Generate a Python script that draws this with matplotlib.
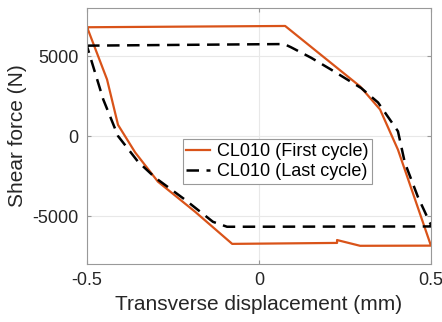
import matplotlib
matplotlib.use('Agg')
import matplotlib.pyplot as plt

plt.rcParams['font.family'] = ['Liberation Sans', 'DejaVu Sans']

# first cycle (orange)
first_x = [-0.5, 0.076, 0.294, 0.352, 0.404, 0.5, 0.294, 0.227, 0.227,
           -0.078, -0.186, -0.294, -0.36, -0.41, -0.442, -0.5]
first_y = [6800, 6880, 3100, 1660, -850, -6850, -6860, -6500, -6680,
           -6740, -4730, -2850, -1030, 700, 3540, 6800]

# last cycle (black dashed)
last_x = [-0.5, 0.073, 0.093, 0.151, 0.209, 0.297, 0.346, 0.404, 0.424,
          0.462, 0.49, 0.5, 0.5, -0.093, -0.134, -0.215, -0.302, -0.352,
          -0.41, -0.453, -0.5]
last_y = [5650, 5750, 5550, 4900, 4160, 3000, 2100, 300, -1660,
          -3800, -5100, -5550, -5650, -5670, -5360, -3980, -2600, -1600,
          0, 2290, 5600]

fig = plt.figure(figsize=(4.42, 3.22), dpi=100)
ax = fig.add_axes([0.197, 0.180, 0.778, 0.795])

ax.plot(first_x, first_y, color='#D95319', lw=1.6, label='CL010 (First cycle)')
ax.plot(last_x, last_y, color='black', lw=1.8, ls=(0, (5, 3)), label='CL010 (Last cycle)')

ax.set_xlim(-0.5, 0.5)
ax.set_ylim(-8000, 8000)
ax.set_xticks([-0.5, 0, 0.5])
ax.set_xticklabels(['-0.5', '0', '0.5'])
ax.set_yticks([-5000, 0, 5000])
ax.set_yticklabels(['-5000', '0', '5000'])
ax.grid(True, color='#e8e8e8', lw=0.8)
ax.set_axisbelow(True)
for s in ax.spines.values():
    s.set_color('#999999')
    s.set_linewidth(0.8)
ax.tick_params(direction='in', length=3, color='#999999', labelsize=13,
               labelcolor='#262626', top=True, right=True, pad=6)
ax.set_xlabel('Transverse displacement (mm)', fontsize=15, color='#262626')
ax.set_ylabel('Shear force (N)', fontsize=15, color='#262626')

leg = ax.legend(loc='center', bbox_to_anchor=(0.553, 0.40), fontsize=13,
                fancybox=False, framealpha=1, edgecolor='#999999',
                handlelength=1.3, handletextpad=0.4, borderpad=0.2,
                borderaxespad=0, labelspacing=0.2)
leg.get_frame().set_linewidth(0.8)

fig.savefig('out.png', dpi=100)
